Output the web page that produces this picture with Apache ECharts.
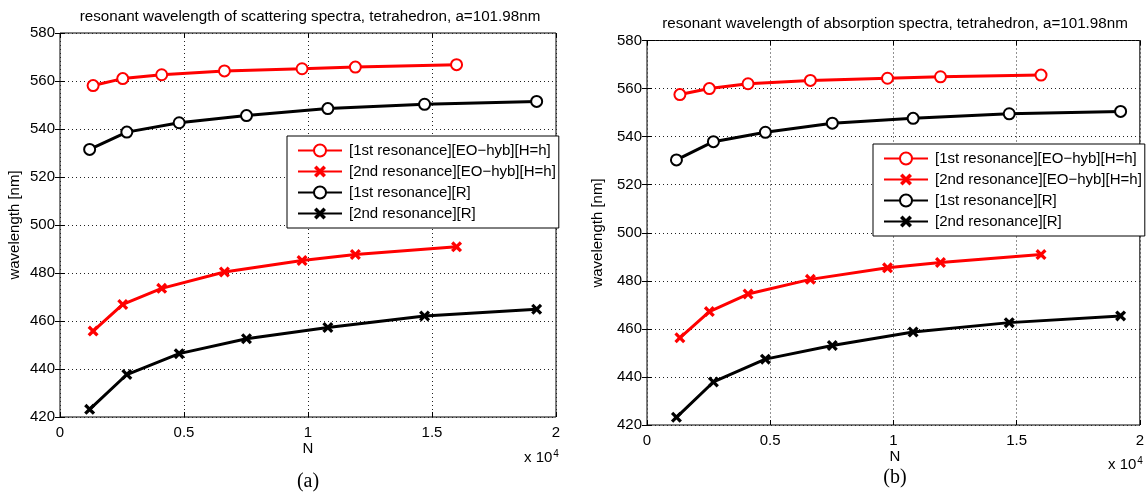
<!DOCTYPE html>
<html>
<head>
<meta charset="utf-8">
<style>
  html, body { margin: 0; padding: 0; background: #fff; }
  #chart { width: 1147px; height: 493px; }
</style>
<script src="https://cdn.jsdelivr.net/npm/echarts@6/dist/echarts.min.js"></script>
</head>
<body>
<div id="chart"></div>
<script>
// Particle count N for each resonance family
const nHybrid = [1335, 2530, 4100, 6630, 9760, 11910, 15990];
const nRegular = [1195, 2695, 4805, 7520, 10800, 14700, 19220];

// (a) scattering spectra, resonant wavelength in nm
const scatHyb1 = [558.1, 561.0, 562.6, 564.2, 565.1, 565.8, 566.8];
const scatHyb2 = [455.8, 466.9, 473.6, 480.4, 485.2, 487.7, 490.9];
const scatReg1 = [531.5, 538.7, 542.6, 545.6, 548.5, 550.3, 551.5];
const scatReg2 = [423.2, 437.7, 446.4, 452.6, 457.3, 462.1, 464.9];

// (b) absorption spectra, resonant wavelength in nm
const absHyb1 = [557.5, 560.0, 562.0, 563.4, 564.3, 564.9, 565.6];
const absHyb2 = [456.3, 467.2, 474.5, 480.6, 485.4, 487.6, 490.9];
const absReg1 = [530.3, 537.9, 541.8, 545.6, 547.6, 549.5, 550.5];
const absReg2 = [423.2, 437.9, 447.4, 453.1, 458.7, 462.6, 465.4];

const seriesNames = [
  '[1st resonance][EO\u2212hyb][H=h]',
  '[2nd resonance][EO\u2212hyb][H=h]',
  '[1st resonance][R]',
  '[2nd resonance][R]'
];
const titles = [
  'resonant wavelength of scattering spectra, tetrahedron, a=101.98nm',
  'resonant wavelength of absorption spectra, tetrahedron, a=101.98nm'
];
const captions = ['(a)', '(b)'];

const FONT = '"Liberation Sans", Arial, Helvetica, sans-serif';
// thick "x" marker as a filled outline
const CROSS = 'path://M0,2.1L2.1,0L5,2.9L7.9,0L10,2.1L7.1,5L10,7.9L7.9,10L5,7.1L2.1,10L0,7.9L2.9,5Z';

const grids = [
  { left: 60, top: 33, width: 496, height: 384 },
  { left: 647, top: 40.5, width: 496, height: 384.5 }
];

function zip(xs, ys) { return xs.map((x, i) => [x, ys[i]]); }

const xAxes = [], yAxes = [], series = [], legends = [];
const panelData = [
  [scatHyb1, scatHyb2, scatReg1, scatReg2],
  [absHyb1, absHyb2, absReg1, absReg2]
];

grids.forEach((g, gi) => {
  const tickLabel = { color: '#000', fontFamily: FONT, fontSize: 15 };
  xAxes.push({
    type: 'value', gridIndex: gi, min: 0, max: 20000, interval: 5000, position: 'bottom',
    axisLine: { show: false },
    axisTick: { inside: true, length: 5, lineStyle: { color: '#000' } },
    axisLabel: Object.assign({ margin: 8, formatter: v => String(v / 10000) }, tickLabel),
    splitLine: { show: true, lineStyle: { color: '#222', type: [1, 3], width: 1 } }
  });
  xAxes.push({
    type: 'value', gridIndex: gi, min: 0, max: 20000, interval: 5000, position: 'top',
    axisLine: { show: false },
    axisTick: { inside: true, length: 5, lineStyle: { color: '#000' } },
    axisLabel: { show: false }, splitLine: { show: false }
  });
  yAxes.push({
    type: 'value', gridIndex: gi, min: 420, max: 580, interval: 20, position: 'left',
    axisLine: { show: false },
    axisTick: { inside: true, length: 5, lineStyle: { color: '#000' } },
    axisLabel: Object.assign({ margin: 5 }, tickLabel),
    splitLine: { show: true, lineStyle: { color: '#222', type: [1, 3], width: 1 } }
  });
  yAxes.push({
    type: 'value', gridIndex: gi, min: 420, max: 580, interval: 20, position: 'right',
    axisLine: { show: false },
    axisTick: { inside: true, length: 5, lineStyle: { color: '#000' } },
    axisLabel: { show: false }, splitLine: { show: false }
  });

  const d = panelData[gi];
  const specs = [
    { n: nHybrid, v: d[0], color: '#ff0000', symbol: 'emptyCircle', size: 11 },
    { n: nHybrid, v: d[1], color: '#ff0000', symbol: CROSS, size: 11 },
    { n: nRegular, v: d[2], color: '#000000', symbol: 'emptyCircle', size: 11 },
    { n: nRegular, v: d[3], color: '#000000', symbol: CROSS, size: 11 }
  ];
  specs.forEach((s, si) => {
    const isCircle = s.symbol === 'emptyCircle';
    series.push({
      type: 'line', name: seriesNames[si],
      xAxisIndex: gi * 2, yAxisIndex: gi * 2,
      data: zip(s.n, s.v),
      symbol: s.symbol, symbolSize: s.size, showAllSymbol: true,
      color: s.color,
      lineStyle: { color: s.color, width: 3 },
      itemStyle: isCircle
        ? { color: s.color, borderColor: s.color, borderWidth: 3 }
        : { color: s.color, borderWidth: 0 },
      emphasis: { disabled: true },
      animation: false, z: 3
    });
  });

  legends.push({
    orient: 'vertical',
    left: gi === 0 ? 287 : 873,
    top: gi === 0 ? 136 : 144,
    padding: [7, 3, 7, 10],
    itemWidth: 44, itemHeight: 15, itemGap: 6,
    backgroundColor: '#fff', borderColor: '#000', borderWidth: 1,
    selectedMode: false,
    textStyle: { color: '#000', fontFamily: FONT, fontSize: 15, padding: [0, 0, 0, 2] },
    data: seriesNames.slice(),
    z: 10
  });
});

const graphics = [];
const titleX = [310, 895], titleY = [17, 24];
const nX = [308, 895], nY = [449, 457];
const ylabX = [15, 598], ylabY = [225, 233];
const expX = [524, 1108], expY = [458, 465];
const capY = [482, 478];
for (let i = 0; i < 2; i++) {
  graphics.push({
    type: 'text', x: titleX[i], y: titleY[i],
    style: { text: titles[i], font: '15.2px ' + FONT, fill: '#000', align: 'center', verticalAlign: 'middle' }
  });
  graphics.push({
    type: 'text', x: nX[i], y: nY[i],
    style: { text: 'N', font: '15px ' + FONT, fill: '#000', align: 'center', verticalAlign: 'middle' }
  });
  graphics.push({
    type: 'text', x: ylabX[i], y: ylabY[i], rotation: Math.PI / 2,
    style: { text: 'wavelength [nm]', font: '15px ' + FONT, fill: '#000', align: 'center', verticalAlign: 'middle' }
  });
  graphics.push({
    type: 'text', x: expX[i], y: expY[i],
    style: {
      text: '{b|x 10}{s|4}',
      fill: '#000', verticalAlign: 'middle',
      rich: {
        b: { font: '15px ' + FONT, fill: '#000' },
        s: { font: '10px ' + FONT, fill: '#000', verticalAlign: 'top', padding: [0, 0, 8, 1] }
      }
    }
  });
  graphics.push({
    type: 'text', x: nX[i], y: capY[i],
    style: { text: captions[i], font: '20px "Liberation Serif", "Times New Roman", serif', fill: '#000', align: 'center', verticalAlign: 'middle' }
  });
}

const chart = echarts.init(document.getElementById('chart'), null, { renderer: 'canvas' });
chart.setOption({
  backgroundColor: '#fff',
  animation: false,
  grid: grids.map(g => Object.assign({ show: true, borderColor: '#000', borderWidth: 1, backgroundColor: 'transparent', containLabel: false }, g)),
  xAxis: xAxes,
  yAxis: yAxes,
  legend: legends,
  series: series,
  graphic: graphics
});
</script>
</body>
</html>
